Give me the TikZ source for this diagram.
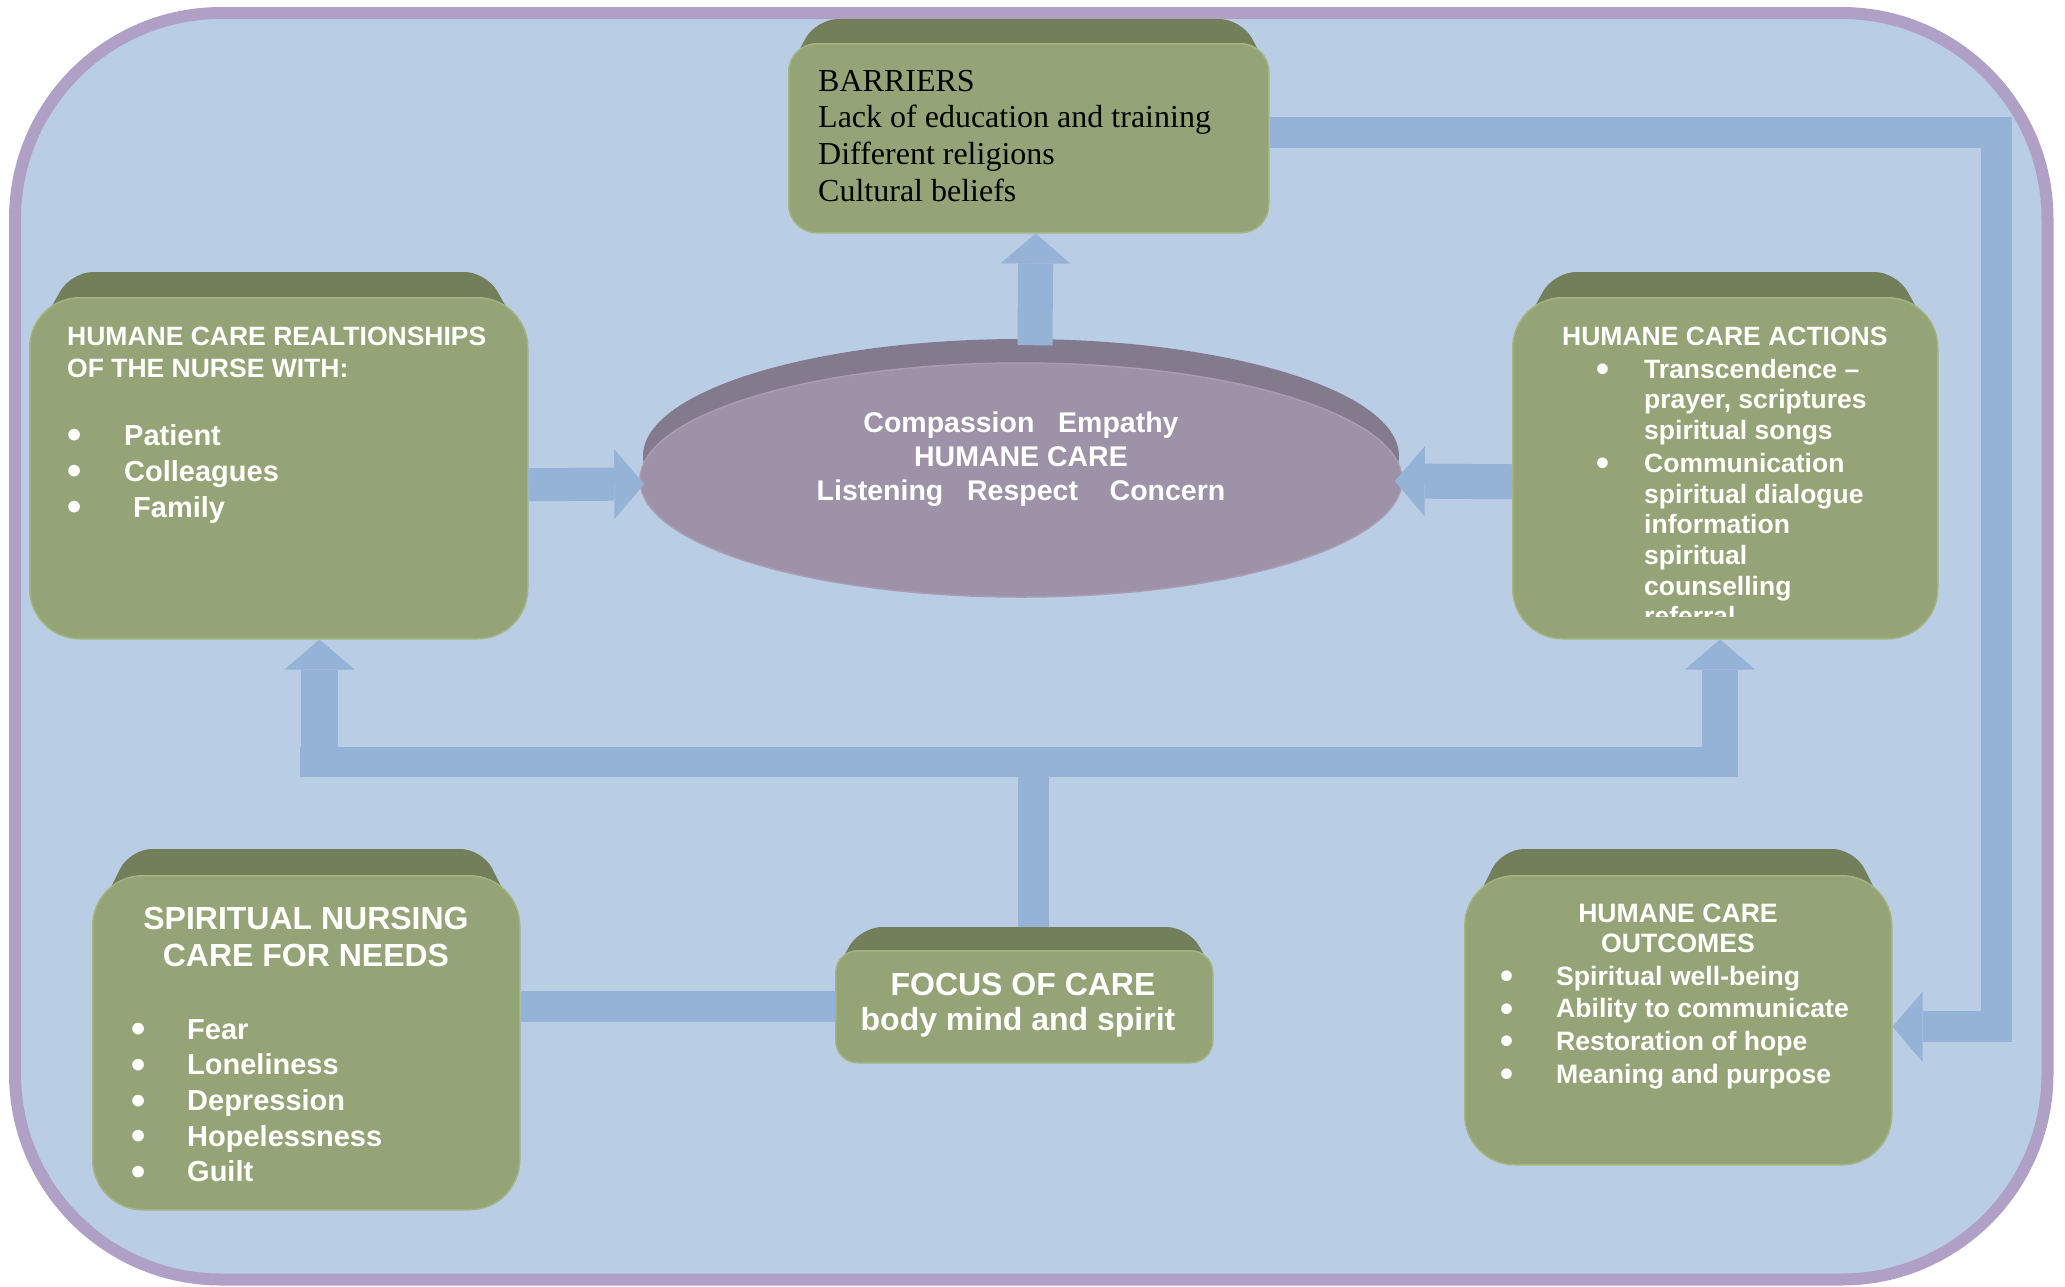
\documentclass[tikz,border=0pt]{standalone}
\usepackage{fontspec}
\usepackage{graphicx}
\setmainfont{Liberation Sans}
\newfontfamily\barrfont{Liberation Serif}
\usetikzlibrary{arrows.meta,calc,shapes.geometric}
\pgfdeclarelayer{back}
\pgfdeclarelayer{mid}
\pgfsetlayers{back,mid,main}
\definecolor{bgblue}{HTML}{B9CDE5}
\definecolor{framepurple}{HTML}{B1A0C6}
\definecolor{arrowblue}{HTML}{95B3D7}
\definecolor{frontgreen}{HTML}{95A476}
\definecolor{topgreen}{HTML}{737E5B}
\definecolor{rimgreen}{HTML}{A3B480}
\definecolor{ellfront}{HTML}{9D92A7}
\definecolor{elltopc}{HTML}{837B8D}
\definecolor{ellrim}{HTML}{A89DB2}

\newcommand\fsz[2]{\fontsize{#1pt}{#2pt}\selectfont\lineskiplimit=-100pt\lineskip=0pt\relax}
\newcommand\ctrline[1]{\hbox to 0pt{\hss #1\hss}}
\newcommand\bigbullet{\raisebox{-0.13em}{\scalebox{1.4}{\textbullet}}}
\newcommand\bulletline[2]{\hbox to #1pt{\bigbullet\hfil}#2}
\newcommand\topband[4]{%
  \begin{pgfonlayer}{mid}
  \fill[topgreen, rounded corners=22pt]
    ($(#1.north west)+(0,#4)$) -- ($(#1.north west)+(#3,-#2)$) --
    ($(#1.north east)+(-#3,-#2)$) -- ($(#1.north east)+(0,#4)$) -- cycle;
  \end{pgfonlayer}}

\tikzset{
  greenbox/.style={rectangle, fill=frontgreen, draw=rimgreen, line width=1.5pt,
    inner sep=0pt, anchor=north west},
  txt/.style={inner sep=0pt, anchor=base west, text=white, font=\bfseries},
  barrow/.style={draw=arrowblue, line width=#1,
    -{Triangle[width=70pt,length=30pt,line width=0pt]}},
  bar/.style={draw=arrowblue, line width=#1},
}

\begin{document}
\begin{tikzpicture}[x=1pt,y=-1pt]
\useasboundingbox (0,0) rectangle (2065,1286);
\begin{pgfonlayer}{back}
  \fill[white] (0,0) rectangle (2065,1286);
  \draw[framepurple, fill=bgblue, line width=12pt, rounded corners=206pt]
    (15,13) rectangle (2047.5,1279.5);
\end{pgfonlayer}

% green boxes (front faces)
\node[greenbox, rounded corners=28pt, minimum width=480pt, minimum height=189pt] (barr) at (788,43) {};
\node[greenbox, rounded corners=50pt, minimum width=498pt, minimum height=341pt] (rel) at (29,297) {};
\node[greenbox, rounded corners=50pt, minimum width=425pt, minimum height=341pt] (act) at (1512,297) {};
\node[greenbox, rounded corners=22pt, minimum width=377pt, minimum height=112pt] (focus) at (835,950) {};
\node[greenbox, rounded corners=50pt, minimum width=427pt, minimum height=334pt] (spir) at (92,875) {};
\node[greenbox, rounded corners=50pt, minimum width=427pt, minimum height=289pt] (out) at (1464,875) {};

% top faces
\topband{barr}{24}{28}{28}
\topband{rel}{25}{42}{50}
\topband{act}{25}{42}{50}
\topband{focus}{23}{25}{22}
\topband{spir}{26}{38}{50}
\topband{out}{26}{38}{50}

% central ellipse
\node[ellipse, fill=elltopc, inner sep=0pt, minimum width=756pt, minimum height=234pt] (ellt) at (1021,456) {};
\node[ellipse, fill=ellfront, draw=ellrim, line width=1.5pt, inner sep=0pt, minimum width=762pt, minimum height=234pt] (ell) at (1021,480) {};

% texts
\node[txt, font=\barrfont, text=black] (barrtxt) at (818,91) {\vtop{\fsz{32}{36.7}%
  \hbox{BARRIERS}\hbox{Lack of education and training}\hbox{Different religions}\hbox{Cultural beliefs}}};

\node[txt] (reltxt) at (67,345.5) {\vtop{\fsz{26.5}{31.5}%
  \hbox{HUMANE CARE REALTIONSHIPS}\hbox{OF THE NURSE WITH:}%
  \fsz{29}{68}\hbox{\bulletline{57}{Patient}}%
  \fsz{29}{36}\hbox{\bulletline{57}{Colleagues}}\hbox{\bulletline{57}{\kern9pt Family}}}};

\begin{scope}
  \clip (1512,297) rectangle (1937,616);
  \node[txt] (acttxt) at (1562,345) {\vtop{\fsz{26.5}{33}%
    \hbox{HUMANE CARE ACTIONS}\hbox{\kern34pt\bulletline{48}{Transcendence –}}%
    \fsz{26.5}{30.7}\hbox{\kern82pt prayer, scriptures}\hbox{\kern82pt spiritual songs}%
    \fsz{26.5}{33}\hbox{\kern34pt\bulletline{48}{Communication}}%
    \fsz{26.5}{30.7}\hbox{\kern82pt spiritual dialogue}\hbox{\kern82pt information}%
    \hbox{\kern82pt spiritual}\hbox{\kern82pt counselling}\hbox{\kern82pt referral}}};
\end{scope}

\node[txt, anchor=base] (elltxt) at (1021,432) {\vtop{\fsz{28.5}{34}%
  \ctrline{Compassion\hspace{0.834em}Empathy}\ctrline{HUMANE CARE}%
  \ctrline{Listening\hspace{0.834em}Respect\hspace{1.112em}Concern}}};

\node[txt, anchor=base] (focustxt) at (1023,995) {\vtop{\fsz{32}{35}%
  \ctrline{FOCUS OF CARE}\hbox to 0pt{\hss body mind and spirit\hss\kern10pt}}};

\node[txt, anchor=base] (spirhead) at (306,929) {\vtop{\fsz{32}{37}%
  \ctrline{SPIRITUAL NURSING}\ctrline{CARE FOR NEEDS}}};
\node[txt] (spiritems) at (131,1039) {\vtop{\fsz{29}{35.7}%
  \hbox{\bulletline{56}{Fear}}\hbox{\bulletline{56}{Loneliness}}\hbox{\bulletline{56}{Depression}}%
  \hbox{\bulletline{56}{Hopelessness}}\hbox{\bulletline{56}{Guilt}}}};

\node[txt, anchor=base] (outhead) at (1678,922) {\vtop{\fsz{26.6}{30}%
  \ctrline{HUMANE CARE}\ctrline{OUTCOMES}}};
\node[txt] (outitems) at (1500,985) {\vtop{\fsz{26.6}{32.7}%
  \hbox{\bulletline{56}{Spiritual well-being}}\hbox{\bulletline{56}{Ability to communicate}}%
  \hbox{\bulletline{56}{Restoration of hope}}\hbox{\bulletline{56}{Meaning and purpose}}}};

% connectors
\draw[barrow=35pt] ($(ell.north)+(14,-17)$) -- ($(barr.south)+(7,0)$);
\draw[barrow=33pt] ($(rel.east)+(0,16.5)$) -- ($(ell.west)+(5,4)$);
\draw[barrow=35pt] ($(act.west)+(0,13.5)$) -- ($(ell.east)+(-8,1)$);
\draw[barrow=31pt, line join=miter] ($(barr.east)+(0,-5.5)$) -- ++(727,0) |- ($(out.east)+(0,6.5)$);

\coordinate (jl) at (300,762);
\coordinate (jr) at (1737,762);
\draw[bar=31pt] ($(focus.north)+(9,-23)$) -- ($(focus.north)+(9,-188)$);
\draw[bar=30pt] (jl) -- (jr);
\coordinate (la) at (319.5,777);
\coordinate (ra) at (1720,777);
\draw[barrow=37pt] (la) -- (la |- rel.south);
\draw[barrow=36pt] (ra) -- (ra |- act.south);
\draw[bar=31pt] (focus.west -| spir.east) -- (focus.west);
\end{tikzpicture}
\end{document}
